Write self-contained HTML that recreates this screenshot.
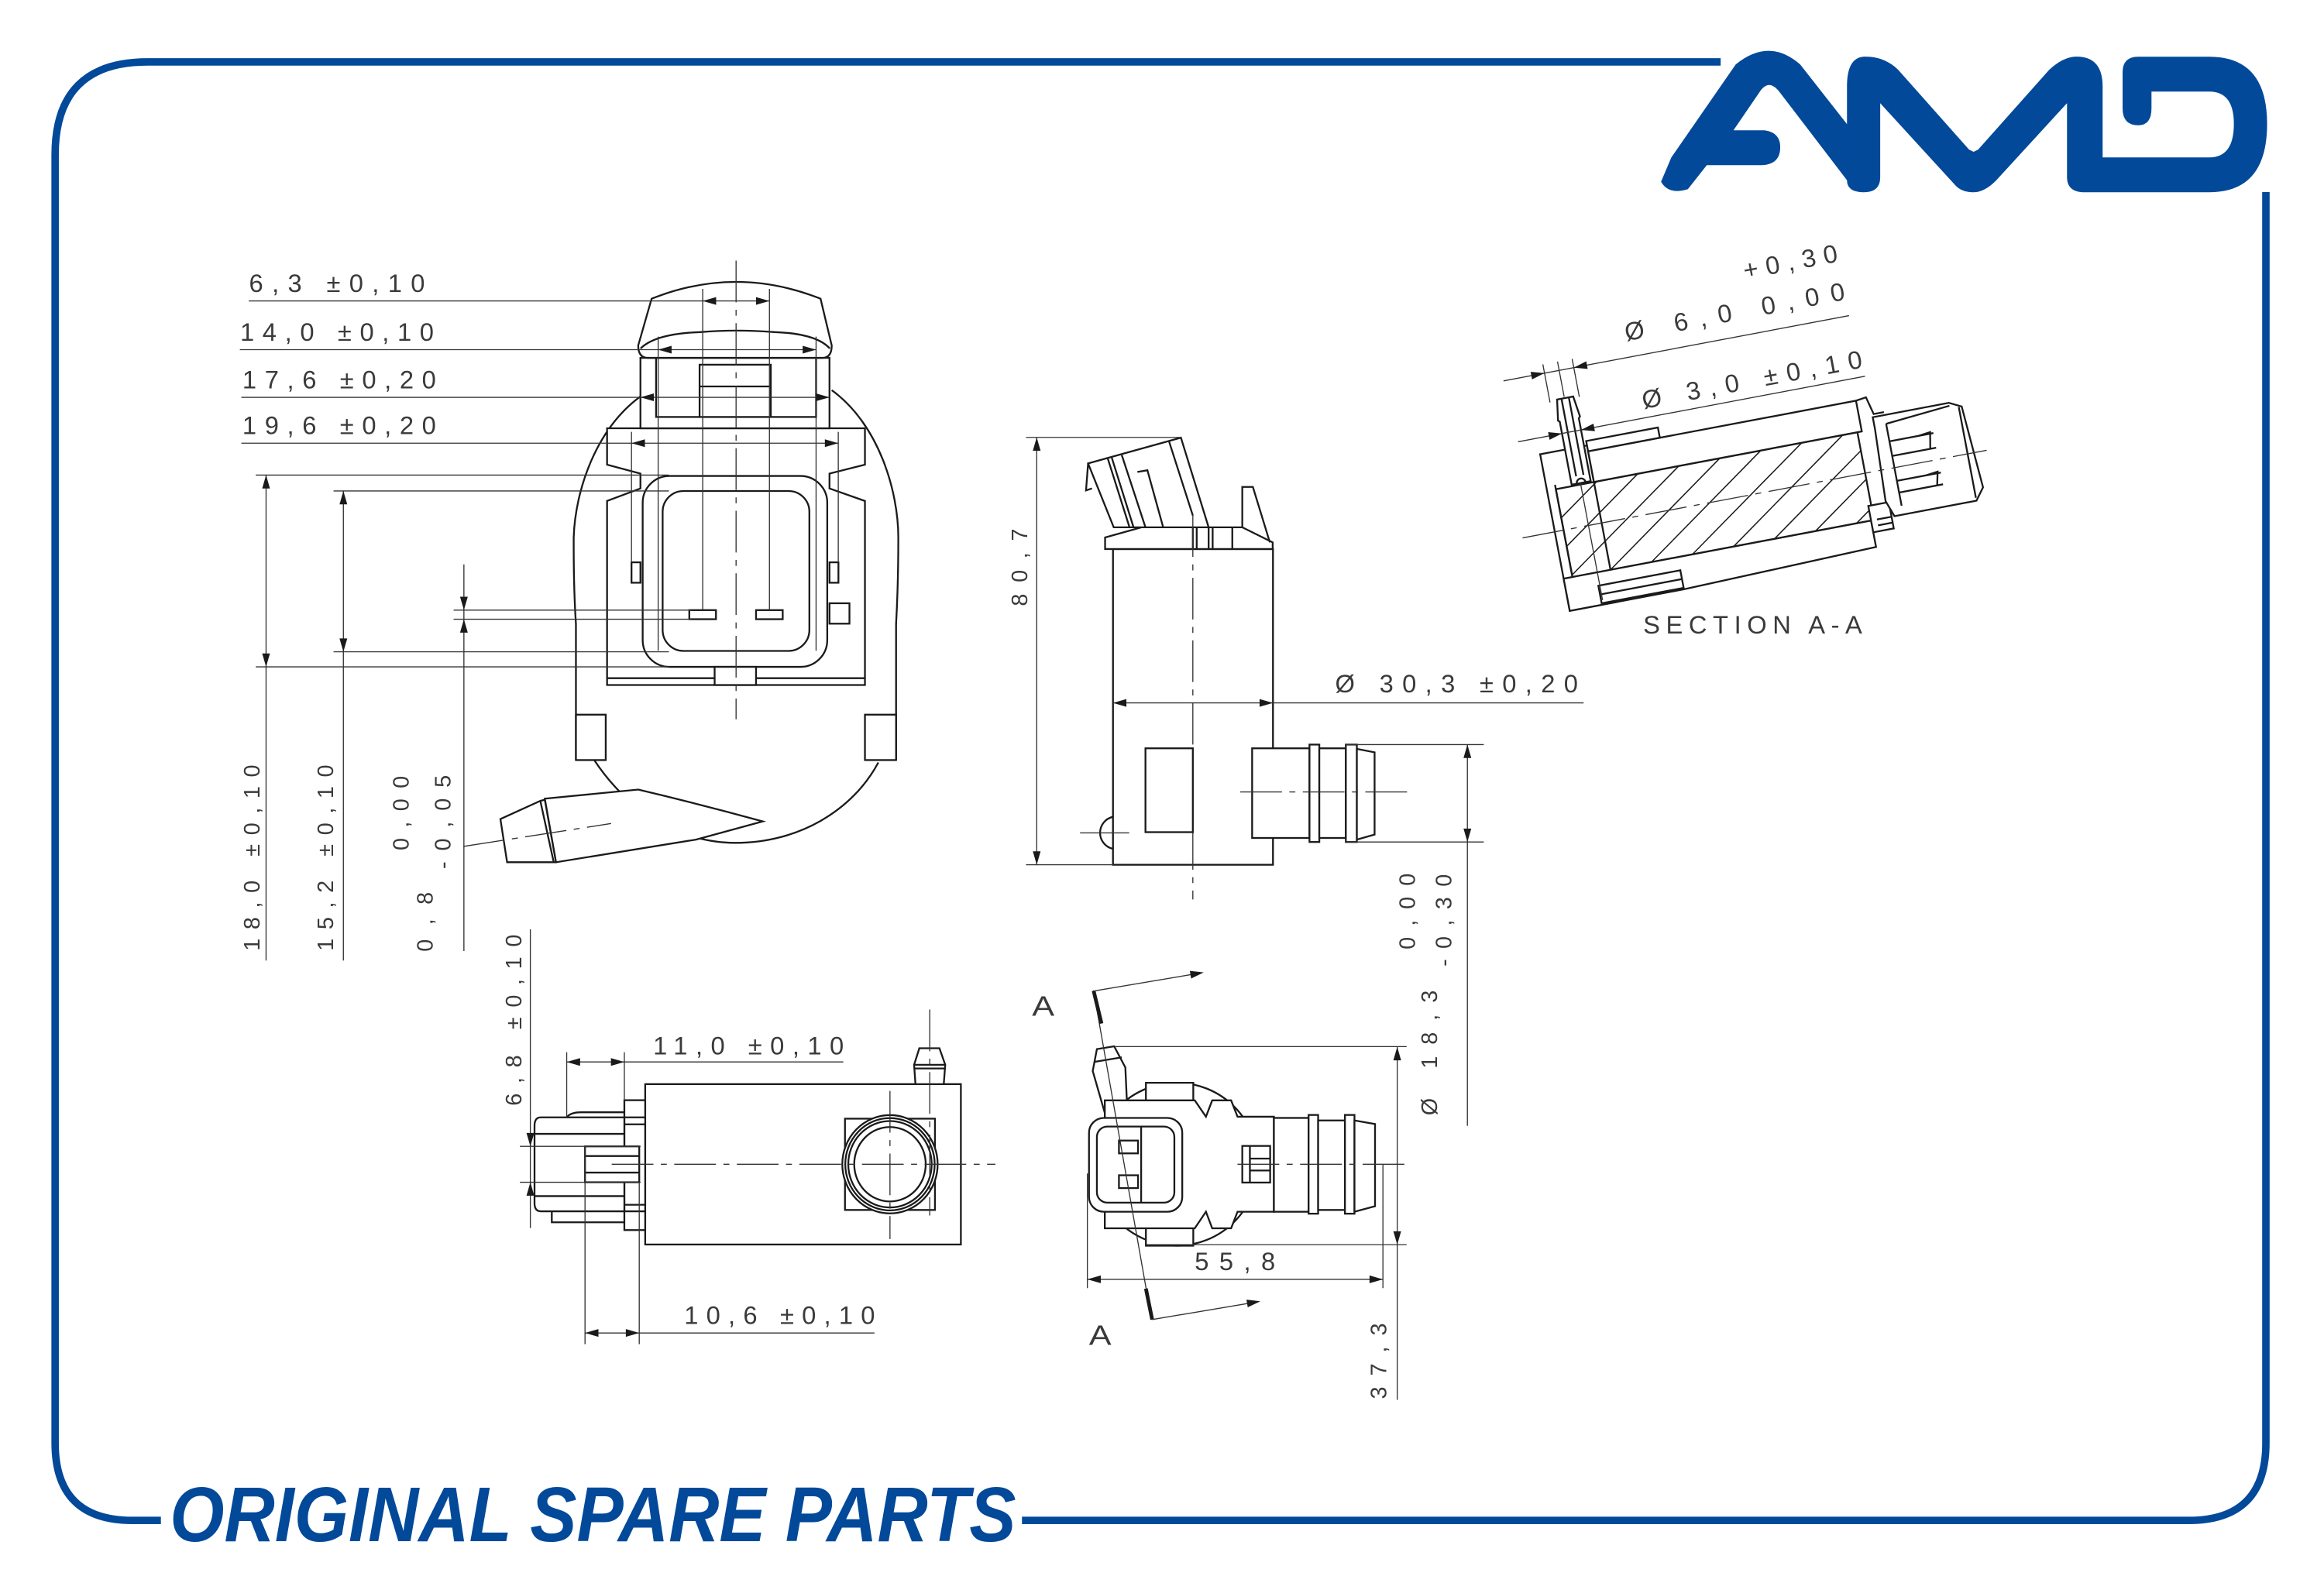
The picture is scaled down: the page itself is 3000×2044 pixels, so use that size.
<!DOCTYPE html>
<html><head><meta charset="utf-8"><style>
html,body{margin:0;padding:0;background:#fff;}
svg{display:block;}
.o{fill:none;stroke:#1a1a1a;stroke-width:1.2;}
.w{fill:#fff;stroke:#1a1a1a;stroke-width:1.2;}
.d{fill:none;stroke:#333;stroke-width:0.7;}
.c{fill:none;stroke:#333;stroke-width:0.7;stroke-dasharray:28 5 4 5;}
.t{font-family:"Liberation Sans",sans-serif;font-size:17px;fill:#3a3a3a;}
.r{font-family:"Liberation Sans",sans-serif;font-size:15px;fill:#3a3a3a;}
</style></head><body>
<svg width="3000" height="2044" viewBox="0 0 1560 1063" preserveAspectRatio="none" xmlns="http://www.w3.org/2000/svg" xmlns:xlink="http://www.w3.org/1999/xlink">
<defs>
<path id="ah" d="M0,0 L-9,-2.6 L-9,2.6Z" fill="#1a1a1a"/>
<clipPath id="hc"><rect x="6" y="-82" width="206" height="60"/></clipPath>
</defs>
<rect width="1560" height="1063" fill="#fff"/>

<!-- border -->
<path d="M1155,41.6 H99 Q37,41.6 37,104 V969 Q37,1021 89,1021 H108 M686,1021 H1469 Q1521,1021 1521,969 V129" fill="none" stroke="#02499a" stroke-width="5"/>
<text x="114" y="1035" textLength="568" lengthAdjust="spacingAndGlyphs" style="font-family:'Liberation Sans',sans-serif;font-weight:bold;font-style:italic;font-size:52px;fill:#02499a">ORIGINAL SPARE PARTS</text>

<!-- AMD logo -->
<g fill="#02499a">
<path d="M1145.7,110.9 L1133,127 Q1120,131 1115,122 L1121.9,105.7 L1165.1,43.3 Q1187.5,25 1208.4,43.3 L1245,90 L1250.2,129.1 Q1244,128 1241.3,123 L1195,62.4 Q1187.5,52 1181,62 L1163.6,87.5 L1184.5,87.5 Q1195,89 1195,98.8 Q1195,110.9 1181.6,110.9 Z"/>
<path d="M1239.8,121 L1239.8,57.2 Q1240,38 1252,38 Q1265,38 1274.1,46.8 L1321.8,100.5 L1324.8,101.9 L1327.8,100.5 L1375.6,46.8 Q1385,38 1394,38 Q1411.4,38 1411.4,58.1 L1411.4,105.7 L1483,105.7 Q1499.5,105.7 1499.5,83.2 Q1499.5,61.5 1483,61.5 L1444.2,61.5 L1444.2,72.8 Q1444.2,84.1 1435.3,84.1 Q1424.8,84.1 1424.8,72.8 L1424.8,48.5 Q1424.8,38.1 1435.3,38.1 L1483,38.1 Q1521.8,38.1 1521.8,83.2 Q1521.8,129.1 1483,129.1 L1399.5,129.1 Q1387.5,129.1 1387.5,119 L1387.5,69.3 L1339.8,121.3 Q1332,129.1 1324.8,129.1 Q1317,129.1 1312.9,124.8 L1262.1,69.3 L1262.1,119 Q1262.1,129.1 1251,129.1 Q1239.8,129.1 1239.8,121 Z"/>
</g>

<!-- ============ FRONT VIEW ============ -->
<g>
<path class="o" d="M434.6,263 C400,285 386,330 385.1,361 C385,390 386,410 386.6,419"/>
<path class="o" d="M558.3,262 C590,285 603,330 603,361 C603,390 602,410 601.5,419"/>
<path class="o" d="M398.6,510 C425,550 462,566 494,566 C535,566 572,545 589.6,512"/>
<line class="o" x1="386.6" y1="418.8" x2="386.6" y2="510.4"/>
<line class="o" x1="601.5" y1="418.8" x2="601.5" y2="510.4"/>
<rect class="w" x="386.6" y="479.9" width="20" height="30.5"/>
<rect class="w" x="580.6" y="479.9" width="20.9" height="30.5"/>
<path class="w" d="M429.9,287.6 H407.5 V312 L429.9,318 V328 L407.5,336.4 V460 H580.6 V336.4 L556.8,328 V318 L580.6,312 V287.6 H556.8 Z"/>
<line class="o" x1="407.5" y1="455.4" x2="580.6" y2="455.4"/>
<rect class="w" x="423.9" y="377.6" width="6" height="13.7"/>
<rect class="w" x="556.8" y="377.6" width="6" height="13.7"/>
<rect class="w" x="556.8" y="405.1" width="13.4" height="13.7"/>
<!-- inner body under cap -->
<rect class="w" x="429.9" y="240.3" width="126.9" height="47.3"/>
<rect class="w" x="440.4" y="240.3" width="107.4" height="39.7"/>
<rect class="w" x="469.6" y="244.9" width="47.8" height="35.1"/>
<line class="o" x1="469.6" y1="259.5" x2="517.4" y2="259.5"/>
<!-- cap -->
<path class="w" d="M437.4,200.6 Q494.1,178 550.8,200.6 L558.3,232 Q558.3,240.3 552,240.3 H435 Q428.4,240.3 428.4,232 Z"/>
<path class="o" d="M430,234 Q440,224 470,223 Q494,221 520,223 Q548,224 557,234"/>
<!-- connector frame -->
<rect class="w" x="431.4" y="319.6" width="123.9" height="128.2" rx="18"/>
<rect class="w" x="444.8" y="329.7" width="98.5" height="107.4" rx="14"/>
<rect class="w" x="462.7" y="409.7" width="17.9" height="6.1"/>
<rect class="w" x="507.5" y="409.7" width="17.9" height="6.1"/>
<rect class="w" x="479.7" y="447.8" width="27.8" height="12.2"/>
<!-- nozzle -->
<path class="w" d="M365.7,536.3 L428.4,530.2 Q470,540 512,551.6 L467.2,563.8 L373.2,579 Z"/>
<path class="w" d="M335.9,550 L362.7,537.8 L365.7,537 L373.2,579 L371.7,579 L340.4,579 Z"/>
<line class="o" x1="362.7" y1="537.8" x2="371.7" y2="579"/>
<line class="c" x1="311" y1="568.4" x2="410.2" y2="553"/>
<!-- centerline -->
<line class="c" x1="494.1" y1="175" x2="494.1" y2="483"/>
<!-- ext lines -->
<line class="d" x1="471.7" y1="194" x2="471.7" y2="409.7"/>
<line class="d" x1="516.5" y1="194" x2="516.5" y2="409.7"/>
<line class="d" x1="441.8" y1="226" x2="441.8" y2="437"/>
<line class="d" x1="547.8" y1="226" x2="547.8" y2="437"/>
<line class="d" x1="423.9" y1="290" x2="423.9" y2="377.6"/>
<line class="d" x1="562.7" y1="290" x2="562.7" y2="377.6"/>
<!-- horizontal dims -->
<line class="d" x1="167" y1="202.1" x2="516.5" y2="202.1"/>
<line class="d" x1="161" y1="234.8" x2="547.8" y2="234.8"/>
<line class="d" x1="162" y1="266.8" x2="556.8" y2="266.8"/>
<line class="d" x1="162" y1="297.6" x2="562.7" y2="297.6"/>
<use xlink:href="#ah" transform="translate(471.7,202.1) rotate(180)"/>
<use xlink:href="#ah" transform="translate(516.5,202.1)"/>
<use xlink:href="#ah" transform="translate(441.8,234.8) rotate(180)"/>
<use xlink:href="#ah" transform="translate(547.8,234.8)"/>
<use xlink:href="#ah" transform="translate(429.9,266.8) rotate(180)"/>
<use xlink:href="#ah" transform="translate(556.8,266.8)"/>
<use xlink:href="#ah" transform="translate(423.9,297.6) rotate(180)"/>
<use xlink:href="#ah" transform="translate(562.7,297.6)"/>
<text class="t" x="167.2" y="196" textLength="118" lengthAdjust="spacing">6,3 ±0,10</text>
<text class="t" x="161.2" y="228.7" textLength="130" lengthAdjust="spacing">14,0 ±0,10</text>
<text class="t" x="162.7" y="260.7" textLength="130" lengthAdjust="spacing">17,6 ±0,20</text>
<text class="t" x="162.7" y="291.5" textLength="130" lengthAdjust="spacing">19,6 ±0,20</text>
<!-- vertical dims -->
<line class="d" x1="171.7" y1="319" x2="449" y2="319"/>
<line class="d" x1="171.7" y1="447.8" x2="449" y2="447.8"/>
<line class="d" x1="223.9" y1="329.7" x2="449" y2="329.7"/>
<line class="d" x1="223.9" y1="437.7" x2="449" y2="437.7"/>
<line class="d" x1="178.6" y1="319" x2="178.6" y2="645"/>
<line class="d" x1="230.5" y1="329.7" x2="230.5" y2="645"/>
<use xlink:href="#ah" transform="translate(178.6,319) rotate(-90)"/>
<use xlink:href="#ah" transform="translate(178.6,447.8) rotate(90)"/>
<use xlink:href="#ah" transform="translate(230.5,329.7) rotate(-90)"/>
<use xlink:href="#ah" transform="translate(230.5,437.7) rotate(90)"/>
<line class="d" x1="304.5" y1="409.7" x2="464" y2="409.7"/>
<line class="d" x1="304.5" y1="415.8" x2="464" y2="415.8"/>
<line class="d" x1="311.4" y1="379" x2="311.4" y2="638.6"/>
<use xlink:href="#ah" transform="translate(311.4,409.7) rotate(90)"/>
<use xlink:href="#ah" transform="translate(311.4,415.8) rotate(-90)"/>
<text class="r" transform="translate(168.7,576) rotate(-90)" x="0" y="5.5" text-anchor="middle" textLength="125" lengthAdjust="spacing">18,0 ±0,10</text>
<text class="r" transform="translate(218,576) rotate(-90)" x="0" y="5.5" text-anchor="middle" textLength="125" lengthAdjust="spacing">15,2 ±0,10</text>
<text class="r" transform="translate(268.7,546) rotate(-90)" x="0" y="5.5" text-anchor="middle" textLength="50" lengthAdjust="spacing">0,00</text>
<text class="r" transform="translate(297,552) rotate(-90)" x="0" y="5.5" text-anchor="middle" textLength="63" lengthAdjust="spacing">-0,05</text>
<text class="r" transform="translate(285,619) rotate(-90)" x="0" y="5.5" text-anchor="middle" textLength="40" lengthAdjust="spacing">0,8</text>
</g>

<!-- ============ SIDE VIEW ============ -->
<g>
<rect class="w" x="747.1" y="368.7" width="107.4" height="212"/>
<path class="w" d="M741.8,368.7 L741.8,360.9 L766.2,354.1 L833.9,354.1 L854.3,364.2 L854.3,368.7 Z"/>
<path class="o" d="M800.7,354.1 V368.7 M803.3,354.1 V368.7 M811.3,354.1 V368.7 M814,354.1 V368.7 M827.2,354.1 V368.7"/>
<path class="w" d="M730.4,311.2 L792.7,293.9 L811.3,354.1 L747.6,354.1 Z"/>
<path class="o" d="M730.4,311.2 L729,329.3 L733,328 M743.6,307.9 L758.2,354.1 M746.3,307.4 L760.9,354.1 M753,305.6 L768.9,354.1 M763.5,316.9 L770.2,315.8 L780.8,354.1 M784.8,296.6 L800.7,346.2"/>
<path class="o" d="M833.9,354.1 L833.9,327 L841,327 L852.4,364.2"/>
<line class="c" x1="800.7" y1="346" x2="800.7" y2="604"/>
<rect class="w" x="768.9" y="502.5" width="31.8" height="56.3"/>
<rect class="w" x="840.5" y="502.5" width="38.5" height="60.2"/>
<rect class="w" x="879" y="500" width="6.6" height="65.4"/>
<rect class="w" x="885.6" y="502.5" width="17.8" height="60.2"/>
<rect class="w" x="903.4" y="500" width="7.4" height="65.4"/>
<path class="w" d="M910.8,502.9 L922.7,505.2 L922.7,560.4 L910.8,563.8 Z"/>
<line class="c" x1="832.5" y1="531.8" x2="945.3" y2="531.8"/>
<path class="o" d="M747.1,548.5 A11,11 0 0 0 747.1,570"/>
<line class="d" x1="725" y1="559.3" x2="758" y2="559.3"/>
<!-- dims -->
<line class="d" x1="688.7" y1="293.7" x2="792.7" y2="293.7"/>
<line class="d" x1="688.7" y1="580.7" x2="747.6" y2="580.7"/>
<line class="d" x1="695.9" y1="293.7" x2="695.9" y2="580.7"/>
<use xlink:href="#ah" transform="translate(695.9,293.7) rotate(-90)"/>
<use xlink:href="#ah" transform="translate(695.9,580.7) rotate(90)"/>
<text class="r" transform="translate(684,381) rotate(-90)" x="0" y="5.5" text-anchor="middle" textLength="52" lengthAdjust="spacing">80,7</text>
<line class="d" x1="747.1" y1="472" x2="1063" y2="472"/>
<use xlink:href="#ah" transform="translate(747.1,472) rotate(180)"/>
<use xlink:href="#ah" transform="translate(854.5,472)"/>
<text class="t" x="896.2" y="465" textLength="163" lengthAdjust="spacing">Ø 30,3 ±0,20</text>
<line class="d" x1="903.4" y1="500" x2="996" y2="500"/>
<line class="d" x1="903.4" y1="565.4" x2="996" y2="565.4"/>
<line class="d" x1="985" y1="500" x2="985" y2="756"/>
<use xlink:href="#ah" transform="translate(985,500) rotate(-90)"/>
<use xlink:href="#ah" transform="translate(985,565.4) rotate(90)"/>
<text class="r" transform="translate(944.2,612) rotate(-90)" x="0" y="5.5" text-anchor="middle" textLength="51" lengthAdjust="spacing">0,00</text>
<text class="r" transform="translate(968.6,618) rotate(-90)" x="0" y="5.5" text-anchor="middle" textLength="62" lengthAdjust="spacing">-0,30</text>
<text class="r" transform="translate(959,707) rotate(-90)" x="0" y="5.5" text-anchor="middle" textLength="84" lengthAdjust="spacing">Ø 18,3</text>
</g>

<!-- ============ BOTTOM-LEFT VIEW ============ -->
<g>
<rect class="w" x="433.1" y="728" width="211.9" height="107.7"/>
<path class="w" d="M617.1,703.9 L630.6,703.9 L634.5,715 L633.5,728 L614.5,728 L613.6,715 Z"/>
<line class="o" x1="613.6" y1="715" x2="634.5" y2="715"/>
<line class="o" x1="614" y1="717.5" x2="634" y2="717.5"/>
<rect class="w" x="567.2" y="751.2" width="60.4" height="61.3"/>
<ellipse class="w" cx="597.4" cy="781.8" rx="32" ry="33"/>
<ellipse class="o" cx="597.4" cy="781.8" rx="30" ry="31"/>
<ellipse class="o" cx="597.4" cy="781.8" rx="28" ry="29"/>
<ellipse class="o" cx="597.4" cy="781.8" rx="24" ry="25"/>
<rect class="w" x="419.1" y="738.8" width="14" height="87.2"/>
<path class="o" d="M419.1,750.3 H433.1 M419.1,755 H433.1 M419.1,809 H433.1 M419.1,813.4 H433.1"/>
<path class="w" d="M419.1,750.3 H363 Q358.8,750.3 358.8,756 V808 Q358.8,813.4 363,813.4 H419.1 Z"/>
<path class="o" d="M380.4,750.3 Q383,746.9 390,746.9 H419.1 M370.4,813.4 V820.8 H419.1 M358.8,761.4 H419.1 M358.8,803.2 H419.1"/>
<rect class="w" x="392.7" y="769.8" width="36.4" height="24.1"/>
<path class="o" d="M392.7,776.3 H429.1 M392.7,787.4 H429.1"/>
<line class="c" x1="410.6" y1="781.8" x2="668.2" y2="781.8"/>
<line class="c" x1="597.4" y1="732.6" x2="597.4" y2="832"/>
<line class="c" x1="624.1" y1="677.9" x2="624.1" y2="816.2"/>
<!-- dims -->
<line class="d" x1="356" y1="624" x2="356" y2="824.6"/>
<line class="d" x1="349" y1="769.8" x2="430" y2="769.8"/>
<line class="d" x1="349" y1="793.9" x2="430" y2="793.9"/>
<use xlink:href="#ah" transform="translate(356,769.8) rotate(90)"/>
<use xlink:href="#ah" transform="translate(356,793.9) rotate(-90)"/>
<text class="r" transform="translate(344.4,685) rotate(-90)" x="0" y="5.5" text-anchor="middle" textLength="115" lengthAdjust="spacing">6,8 ±0,10</text>
<line class="d" x1="380.4" y1="706.6" x2="380.4" y2="750.3"/>
<line class="d" x1="419.1" y1="706.6" x2="419.1" y2="738.8"/>
<line class="d" x1="380.4" y1="713.1" x2="566.1" y2="713.1"/>
<use xlink:href="#ah" transform="translate(380.4,713.1) rotate(180)"/>
<use xlink:href="#ah" transform="translate(419.1,713.1)"/>
<text class="t" x="438.4" y="708" textLength="128" lengthAdjust="spacing">11,0 ±0,10</text>
<line class="d" x1="392.7" y1="770" x2="392.7" y2="902.6"/>
<line class="d" x1="429.1" y1="794" x2="429.1" y2="902.6"/>
<line class="d" x1="392.7" y1="895.1" x2="587" y2="895.1"/>
<use xlink:href="#ah" transform="translate(392.7,895.1) rotate(180)"/>
<use xlink:href="#ah" transform="translate(429.1,895.1)"/>
<text class="t" x="459.3" y="889" textLength="128" lengthAdjust="spacing">10,6 ±0,10</text>
</g>

<!-- ============ BOTTOM-RIGHT VIEW ============ -->
<g>
<circle class="o" cx="789.8" cy="781.8" r="54.7"/>
<path class="w" d="M769.2,727.1 H801 V836.5 H769.2 Z"/>
<path class="w" d="M733.5,719.2 L736.3,704.5 L747.9,702.6 L755.4,716.8 L756.4,738.9 L742,748.7 Z"/>
<line class="o" x1="735" y1="713" x2="753" y2="710"/>
<path class="w" d="M741.6,738.9 L802,738.9 L809.5,749.9 L813.7,738.9 L826.4,738.9 L830.7,749.9 L855.1,749.9 L855.1,813.7 L830.7,813.7 L826.4,824.8 L813.7,824.8 L809.5,813.7 L802,824.8 L741.6,824.8 Z"/>
<rect class="w" x="833.9" y="769.5" width="18.7" height="24.6"/>
<path class="o" d="M839,769.5 V794.1 M839,778 H852.6 M839,786 H852.6"/>
<rect class="w" x="731" y="750.7" width="62.6" height="63" rx="10"/>
<rect class="w" x="736.3" y="756.5" width="52" height="51.1" rx="7"/>
<line class="o" x1="766" y1="756.5" x2="766" y2="807.6"/>
<rect class="w" x="751.1" y="765.9" width="12.8" height="8.6"/>
<rect class="w" x="751.1" y="789.2" width="12.8" height="8.6"/>
<rect class="w" x="855.1" y="750.7" width="23.3" height="63"/>
<rect class="w" x="878.4" y="748.7" width="6.4" height="66.3"/>
<rect class="w" x="884.8" y="752.4" width="18" height="60.1"/>
<rect class="w" x="902.8" y="748.7" width="6.4" height="66.3"/>
<path class="w" d="M909.2,752.4 L923,754.8 L923,810 L909.2,813.7 Z"/>
<line class="c" x1="830.7" y1="781.8" x2="945.3" y2="781.8"/>
<!-- A-A -->
<line class="d" x1="734" y1="665" x2="773" y2="886"/>
<line x1="734.1" y1="665.3" x2="739.4" y2="687.3" stroke="#1a1a1a" stroke-width="2.5"/>
<line x1="769.2" y1="865.3" x2="773.4" y2="886.1" stroke="#1a1a1a" stroke-width="2.5"/>
<line class="d" x1="735.2" y1="665.3" x2="805.2" y2="653.5"/>
<use xlink:href="#ah" transform="translate(808,653) rotate(-9.6)"/>
<line class="d" x1="773.4" y1="886.1" x2="843.4" y2="874.3"/>
<use xlink:href="#ah" transform="translate(846,873.8) rotate(-9.6)"/>
<text class="t" x="692.8" y="682" textLength="15" lengthAdjust="spacingAndGlyphs" style="font-size:19px">A</text>
<text class="t" x="731" y="903" textLength="15" lengthAdjust="spacingAndGlyphs" style="font-size:19px">A</text>
<!-- dims -->
<line class="d" x1="748" y1="702.8" x2="944.2" y2="702.8"/>
<line class="d" x1="769.2" y1="835.8" x2="944.2" y2="835.8"/>
<line class="d" x1="937.9" y1="702.8" x2="937.9" y2="940"/>
<use xlink:href="#ah" transform="translate(937.9,703) rotate(-90)"/>
<use xlink:href="#ah" transform="translate(937.9,835.8) rotate(90)"/>
<text class="r" transform="translate(925.1,914) rotate(-90)" x="0" y="5.5" text-anchor="middle" textLength="51" lengthAdjust="spacing">37,3</text>
<line class="d" x1="729.9" y1="788" x2="729.9" y2="865"/>
<line class="d" x1="928.3" y1="781.8" x2="928.3" y2="865"/>
<line class="d" x1="729.9" y1="859.1" x2="928.3" y2="859.1"/>
<use xlink:href="#ah" transform="translate(729.9,859.1) rotate(180)"/>
<use xlink:href="#ah" transform="translate(928.3,859.1)"/>
<text class="t" x="802" y="853" textLength="54" lengthAdjust="spacing">55,8</text>
</g>

<!-- ============ SECTION A-A ============ -->
<g transform="translate(1053.7,410.2) rotate(-10.7)">
<g clip-path="url(#hc)" class="d" style="stroke:#1a1a1a;stroke-width:0.8">
<path d="M-80,-22 l86,-60 M-52,-22 l86,-60 M-24,-22 l86,-60 M4,-22 l86,-60 M32,-22 l86,-60 M60,-22 l86,-60 M88,-22 l86,-60 M116,-22 l86,-60 M144,-22 l86,-60 M172,-22 l86,-60 M200,-22 l86,-60"/>
</g>
<rect class="o" x="6" y="-82" width="206" height="60"/>
<rect class="o" x="0" y="-107" width="32" height="107"/>
<line class="o" x1="6" y1="-85" x2="6" y2="-22"/>
<rect class="w" x="32" y="-103" width="183" height="21"/>
<rect class="w" x="32" y="-110" width="49" height="7"/>
<path class="o" d="M215,-103 L222,-104 L225,-92 L232,-92"/>
<path class="w" d="M0,-22 H210 V-4 L78,0 H0 Z"/>
<rect class="w" x="22" y="-13" width="56" height="12"/>
<line class="o" x1="22" y1="-7" x2="78" y2="-7"/>
<rect class="w" x="210" y="-32" width="14" height="18"/>
<path class="o" d="M214,-22 H224 M214,-18 H224"/>
<path class="w" d="M224,-82 L224,-90 L276,-90 L284,-86 L288,-30 L282,-22 L226,-22 L222,-33 Z"/>
<path class="o" d="M232,-84 V-28 M232,-84 L276,-88 M232,-72 H262 M232,-62 H262 M232,-45 H262 M232,-37 H262 M252,-72 l8,-1 l-2,11 M252,-45 l8,-1 l-2,9 M282,-86 L282,-24"/>
<path class="w" d="M18,-141 H29 L31,-127 L30,-126 V-83 H17 V-126 L16,-127 Z"/>
<path class="o" d="M21,-141 V-88 M26,-141 V-88"/>
<path class="o" d="M20.5,-83 A3,3 0 0 1 26.5,-83"/>
<line class="d" x1="23" y1="-83" x2="23" y2="-3"/>
<line class="c" x1="-22" y1="-54" x2="295" y2="-54"/>
<!-- dims -->
<path class="d" d="M13,-166 V-140 M23,-166 V-142 M33,-166 V-140"/>
<line class="d" x1="-15" y1="-160" x2="221" y2="-160"/>
<use xlink:href="#ah" transform="translate(13,-160)"/>
<use xlink:href="#ah" transform="translate(33,-160) rotate(180)"/>
<line class="d" x1="-13" y1="-118" x2="224" y2="-118"/>
<use xlink:href="#ah" transform="translate(17,-118)"/>
<use xlink:href="#ah" transform="translate(30,-118) rotate(180)"/>
<text class="t" x="71" y="-171" textLength="150" lengthAdjust="spacing">Ø 6,0   0,00</text>
<text class="t" x="157" y="-197" textLength="64" lengthAdjust="spacing">+0,30</text>
<text class="t" x="74" y="-124" textLength="150" lengthAdjust="spacing">Ø 3,0 ±0,10</text>
</g>
<text class="t" x="1103" y="425.4" textLength="147" lengthAdjust="spacing">SECTION A-A</text>
</svg>
</body></html>
